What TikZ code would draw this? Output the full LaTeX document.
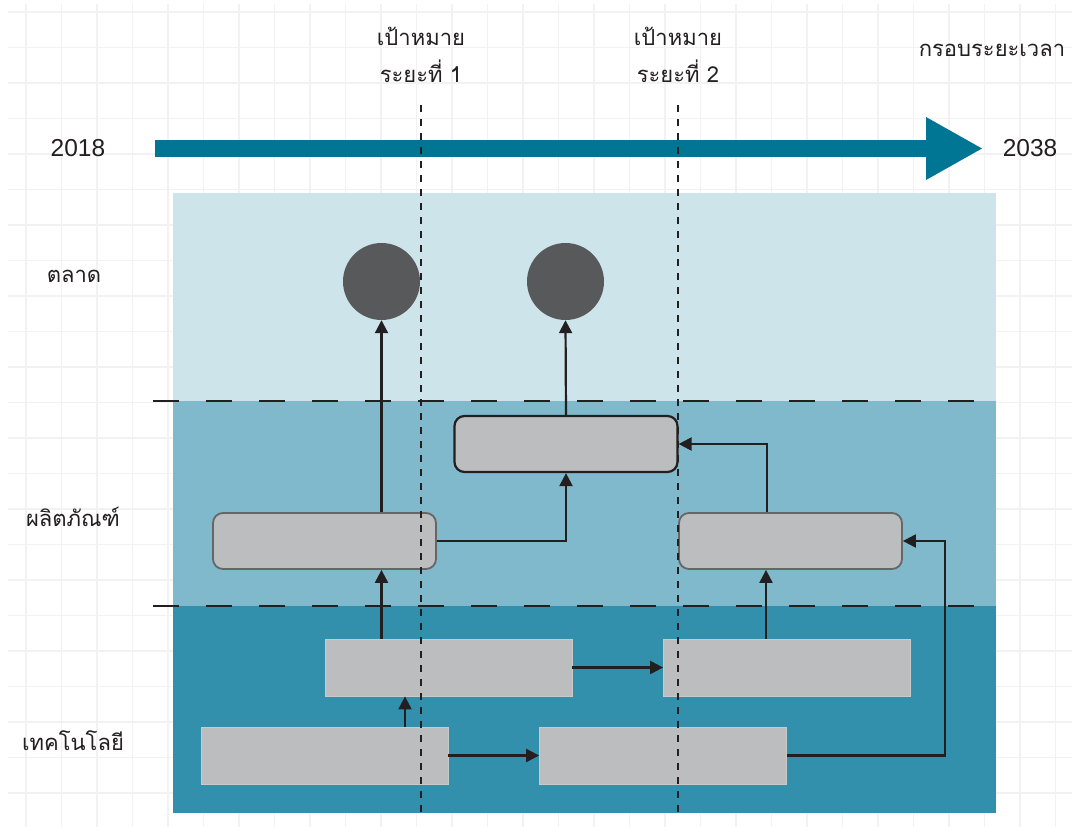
\documentclass[tikz,border=0pt]{standalone}
\usepackage{fontspec}
\setmainfont{Liberation Sans}
\newfontfamily\thaifont[Script=Thai]{Loma}
\usetikzlibrary{arrows.meta}
\definecolor{gridc}{HTML}{F2F2F2}
\definecolor{bandA}{HTML}{CDE4EA}
\definecolor{bandB}{HTML}{80B9CB}
\definecolor{bandC}{HTML}{3290AD}
\definecolor{tlc}{HTML}{007594}
\definecolor{circc}{HTML}{58595B}
\definecolor{boxc}{HTML}{BCBDBF}
\definecolor{inkc}{HTML}{231F20}
\definecolor{pedge}{HTML}{666666}
\begin{document}
\begin{tikzpicture}[x=1pt,y=-1pt,
  lbl/.style={font=\thaifont\fontsize{22}{26}\selectfont, text=inkc, inner sep=0pt},
  yr/.style={font=\fontsize{24.5}{28}\selectfont, text=inkc, inner sep=0pt},
  pbox/.style={draw=pedge, line width=1.8pt, fill=boxc, rounded corners=10pt, minimum width=223pt, minimum height=56pt, inner sep=0pt},
  tbox/.style={draw=boxc!80!white, line width=0.8pt, fill=boxc, minimum width=247pt, minimum height=57pt, inner sep=0pt},
  goal/.style={circle, fill=circc, minimum size=77pt, inner sep=0pt},
  arr/.style={draw=inkc, line width=2.2pt, -{Triangle[length=13pt,width=13pt]}},
  phaseline/.style={draw=inkc, line width=2.2pt, dash pattern=on 7pt off 7pt},
  rowline/.style={draw=inkc, line width=2.4pt, dash pattern=on 26pt off 27pt},
]
\useasboundingbox (0,0) rectangle (1072,827);
\fill[white] (0,0) rectangle (1072,827);
% grid
\foreach \i in {0,...,29} \draw[gridc, line width=1.6pt] (26+35.5*\i,4) -- (26+35.5*\i,827);
\foreach \j in {0,...,22} \draw[gridc, line width=1.6pt] (8,12+35.5*\j) -- (1072,12+35.5*\j);
% bands
\fill[bandA] (173,193) rectangle (996,401);
\fill[bandB] (173,401) rectangle (996,606);
\fill[bandC] (173,606) rectangle (996,813);
\coordinate (r1a) at (153,401); \coordinate (r1b) at (985,401);
\coordinate (r2a) at (153,606); \coordinate (r2b) at (985,606);
\draw[rowline] (r1a) -- (r1b);
\draw[rowline] (r2a) -- (r2b);
% timeline
\fill[tlc] (155,140) rectangle (928,157);
\fill[tlc] (926,117) -- (982,148.5) -- (926,180) -- cycle;
% goals
\node[goal] (C1) at (381.5,281.5) {};
\node[goal] (C2) at (565.5,281.5) {};
% boxes
\node[pbox] (P1) at (324.5,541) {};
\node[pbox, draw=inkc, line width=2.2pt] (P2) at (566,444) {};
\node[pbox] (P3) at (790.5,541) {};
\node[tbox] (T1) at (448.5,667.5) {};
\node[tbox] (T2) at (787,667.5) {};
\node[tbox] (T3) at (324.5,755.5) {};
\node[tbox] (T4) at (663,755.5) {};
% connectors
\draw[arr] (T1.north -| C1) -- (P1.south -| C1);
\draw[arr] (P1.north -| C1) -- (C1.south);
\draw[arr] (P1.east) -| (P2.south);
\draw[arr] (P2.north) -- (C2.south);
\draw[arr] ([xshift=80.5pt]T3.north) -- ([xshift=80.5pt]T3.north |- T1.south);
\draw[arr] (T3.east) -- (T4.west);
\draw[arr] (T1.east) -- (T2.west);
\draw[arr] ([xshift=-21pt]T2.north) -- ([xshift=-21pt]T2.north |- P3.south);
\draw[arr] ([xshift=-23.5pt]P3.north) |- (P2.east);
\draw[arr] (T4.east) -- ++(158,0) |- (P3.east);
% phase lines
\coordinate (g1t) at (421,105); \coordinate (g1b) at (421,813);
\coordinate (g2t) at (678,105); \coordinate (g2b) at (678,813);
\draw[phaseline] (g1t) -- (g1b);
\draw[phaseline] (g2t) -- (g2b);
% labels
\node[lbl] (m1a) at (421,36) {เป้าหมาย};
\node[lbl] (m1b) at (421,71) {ระยะที่ 1};
\node[lbl] (m2a) at (678,36) {เป้าหมาย};
\node[lbl] (m2b) at (678,71) {ระยะที่ 2};
\node[lbl] (frame) at (992,50) {กรอบระยะเวลา};
\node[yr] (y1) at (78,148) {2018};
\node[yr] (y2) at (1030,148) {2038};
\node[lbl] (lm) at (74,276) {ตลาด};
\node[lbl] (lp) at (73,517) {ผลิตภัณฑ์};
\node[lbl] (lt) at (73,741) {เทคโนโลยี};
\end{tikzpicture}
\end{document}
